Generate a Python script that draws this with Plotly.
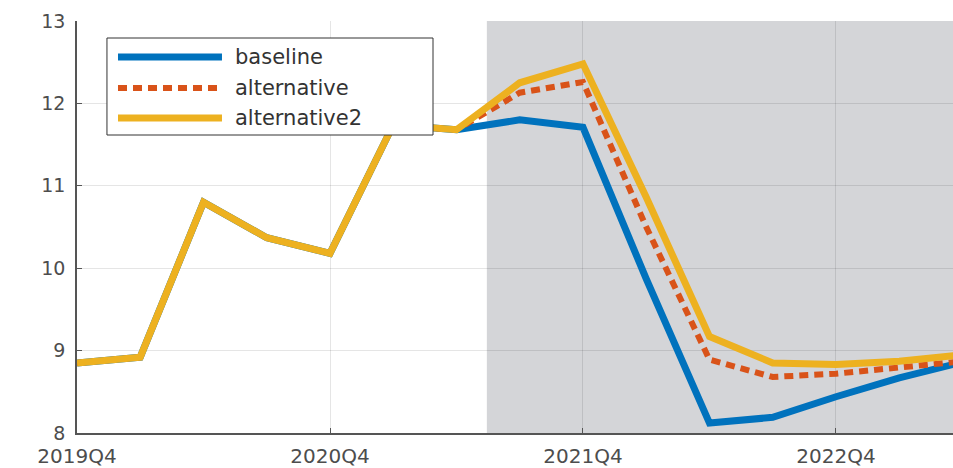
import plotly.graph_objects as go

# Quarterly path, 2019Q4 .. 2023Q2
quarters = ["2019Q4", "2020Q1", "2020Q2", "2020Q3", "2020Q4", "2021Q1", "2021Q2",
            "2021Q3", "2021Q4", "2022Q1", "2022Q2", "2022Q3", "2022Q4", "2023Q1", "2023Q2"]
baseline = [8.85, 8.92, 10.80, 10.37, 10.18, 11.74, 11.68,
            11.80, 11.71, 9.87, 8.12, 8.19, 8.44, 8.67, 8.86]
alternative = [8.85, 8.92, 10.80, 10.37, 10.18, 11.74, 11.68,
               12.13, 12.26, 10.50, 8.89, 8.68, 8.72, 8.80, 8.87]
alternative2 = [8.85, 8.92, 10.80, 10.37, 10.18, 11.74, 11.68,
                12.25, 12.48, 10.86, 9.17, 8.85, 8.83, 8.87, 8.95]

tick_labels = ["2019Q4", "2020Q4", "2021Q4", "2022Q4"]
y_ticks = [8, 9, 10, 11, 12, 13]
forecast_start = 6.48  # shading begins between 2021Q2 and 2021Q3

series_names = ["baseline", "alternative", "alternative2"]
colors = ["#0072BD", "#D95319", "#EDB120"]
dashes = ["solid", "9px,6px", "solid"]
widths = [7, 6, 7]

x_idx = list(range(len(quarters)))
tick_pos = [quarters.index(q) for q in tick_labels]

fig = go.Figure()
for name, ys, c, d, w in zip(series_names, [baseline, alternative, alternative2],
                             colors, dashes, widths):
    fig.add_trace(go.Scatter(x=x_idx, y=ys, mode="lines", name=name,
                             line=dict(color=c, width=w, dash=d),
                             showlegend=False, hoverinfo="x+y"))

# Shaded projection window
fig.add_shape(type="rect", xref="x", yref="paper", x0=forecast_start, x1=len(quarters),
              y0=0, y1=1, fillcolor="#d4d5d8", line_width=0, layer="below")

# Legend box drawn in paper coordinates
fig.add_shape(type="rect", xref="paper", yref="paper", x0=0.0342, x1=0.4064,
              y0=0.7233, y1=0.9587, fillcolor="white", line=dict(color="#333333", width=1),
              layer="above")
legend_y = [0.9126, 0.8374, 0.7646]
for name, c, d, w, ly in zip(series_names, colors, dashes, widths, legend_y):
    fig.add_shape(type="line", xref="paper", yref="paper", x0=0.0468, x1=0.1655,
                  y0=ly, y1=ly, line=dict(color=c, width=w, dash=d), layer="above")
    fig.add_annotation(xref="paper", yref="paper", x=0.1781, y=ly, text=name,
                       showarrow=False, xanchor="left", yanchor="middle",
                       font=dict(family="DejaVu Sans", size=21, color="#333333"))

fig.update_layout(
    width=953, height=468,
    margin=dict(l=77, r=0, t=21, b=35),
    paper_bgcolor="white", plot_bgcolor="white",
    font=dict(family="DejaVu Sans", size=20, color="#4d4d4d"),
)
fig.update_xaxes(range=[0, 13.85], tickvals=tick_pos, ticktext=tick_labels,
                 tickfont=dict(size=20), ticklabelstandoff=4,
                 showgrid=True, gridcolor="rgba(0,0,0,0.1)", gridwidth=1,
                 showline=True, linecolor="#555555", linewidth=1.5,
                 ticks="inside", ticklen=5, tickcolor="#555555",
                 zeroline=False, fixedrange=True)
fig.update_yaxes(range=[8, 13], tickvals=y_ticks,
                 tickfont=dict(size=19), ticklabelstandoff=6,
                 showgrid=True, gridcolor="rgba(0,0,0,0.1)", gridwidth=1,
                 showline=True, linecolor="#555555", linewidth=1.5,
                 ticks="inside", ticklen=5, tickcolor="#555555",
                 zeroline=False, fixedrange=True)

fig.write_html("out.html")
